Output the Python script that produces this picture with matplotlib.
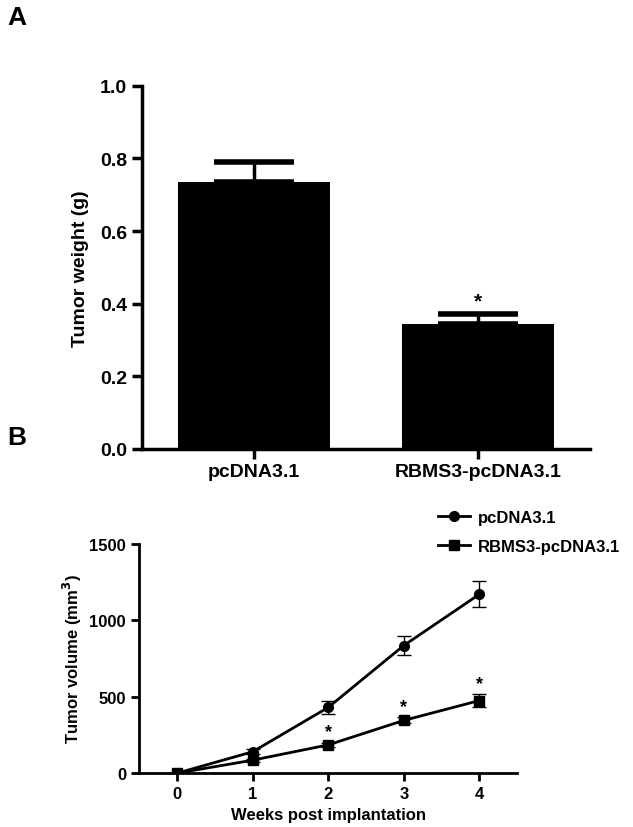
import numpy as np
import matplotlib.pyplot as plt
from matplotlib.lines import Line2D

plt.rcParams['font.family'] = ['Liberation Sans', 'DejaVu Sans']
plt.rcParams['font.weight'] = 'bold'

# Panel A: tumor weight
groups = ['pcDNA3.1', 'RBMS3-pcDNA3.1']
weight = [0.734, 0.344]
weight_err = [0.055, 0.026]

# Panel B: tumor volume over time
weeks = [0, 1, 2, 3, 4]
vol_ctrl = [0, 140, 430, 835, 1170]
vol_ctrl_err = [0, 15, 40, 65, 85]
vol_rbms3 = [0, 85, 185, 345, 475]
vol_rbms3_err = [0, 10, 15, 20, 40]
star_weeks = [2, 3, 4]

fig = plt.figure(figsize=(6.33, 8.28), dpi=100)

# ---- A ----
ax1 = fig.add_axes([0.224, 0.457, 0.708, 0.438])
x = np.arange(len(groups))
ax1.bar(x, weight, width=0.68, color='black', zorder=2)
ax1.errorbar(x, weight, yerr=[[0, 0], weight_err], fmt='none', ecolor='black',
             elinewidth=2.5, capsize=29, capthick=4, zorder=1)
ax1.text(1, weight[1] + weight_err[1] + 0.01, '*', ha='center', va='bottom',
         fontsize=15, fontweight='bold')
ax1.set_xlim(-0.5, 1.5)
ax1.set_ylim(0, 1.0)
ax1.set_yticks([0, 0.2, 0.4, 0.6, 0.8, 1.0])
ax1.set_yticklabels(['0.0', '0.2', '0.4', '0.6', '0.8', '1.0'])
ax1.set_xticks(x)
ax1.set_xticklabels(groups)
ax1.set_ylabel('Tumor weight (g)', fontsize=14, fontweight='bold', labelpad=8)
for s in ['top', 'right']:
    ax1.spines[s].set_visible(False)
for s in ['left', 'bottom']:
    ax1.spines[s].set_linewidth(2.5)
ax1.tick_params(width=2.5, length=7, labelsize=14)
fig.text(0.012, 0.978, 'A', fontsize=19, fontweight='bold', va='center')

# ---- B ----
ax2 = fig.add_axes([0.22, 0.065, 0.597, 0.277])
ax2.errorbar(weeks, vol_ctrl, yerr=vol_ctrl_err, color='black', marker='o',
             markersize=7, linewidth=2, elinewidth=1, capsize=5, capthick=1)
ax2.errorbar(weeks, vol_rbms3, yerr=vol_rbms3_err, color='black', marker='s',
             markersize=7, linewidth=2, elinewidth=1, capsize=5, capthick=1)
for w in star_weeks:
    ax2.text(w, vol_rbms3[w] + vol_rbms3_err[w] + 15, '*', ha='center',
             va='bottom', fontsize=13, fontweight='bold')
ax2.set_xlim(-0.5, 4.5)
ax2.set_ylim(0, 1500)
ax2.set_xticks(weeks)
ax2.set_yticks([0, 500, 1000, 1500])
ax2.set_xlabel('Weeks post implantation', fontsize=12, fontweight='bold')
ax2.set_ylabel('Tumor volume (mm$^\\mathbf{3}$)', fontsize=12, fontweight='bold')
for s in ['top', 'right']:
    ax2.spines[s].set_visible(False)
for s in ['left', 'bottom']:
    ax2.spines[s].set_linewidth(2)
ax2.tick_params(width=2, length=6, labelsize=12)
handles = [Line2D([], [], color='black', marker='o', markersize=7, linewidth=2),
           Line2D([], [], color='black', marker='s', markersize=7, linewidth=2)]
ax2.legend(handles, groups, loc='upper left', bbox_to_anchor=(0.76, 1.20),
           frameon=False, fontsize=12, handlelength=1.9, handletextpad=0.5,
           labelspacing=0.85, borderaxespad=0.3)
fig.text(0.012, 0.471, 'B', fontsize=19, fontweight='bold', va='center')

fig.savefig('out.png', dpi=100)
